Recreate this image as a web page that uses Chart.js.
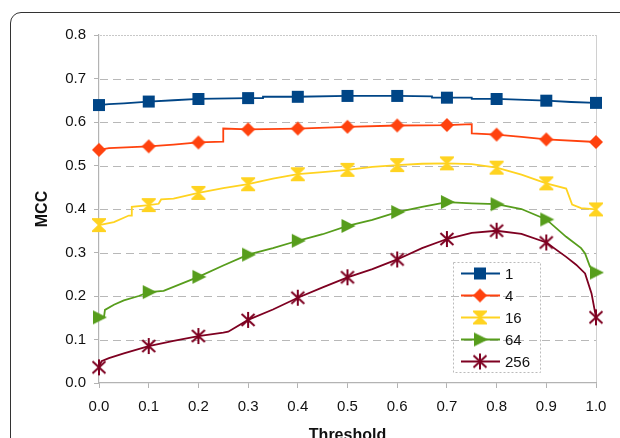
<!DOCTYPE html>
<html>
<head>
<meta charset="utf-8">
<script src="https://cdn.jsdelivr.net/npm/chart.js@4/dist/chart.umd.min.js"></script>
<style>
  html, body { margin: 0; padding: 0; background: #fff; overflow: hidden; }
  #wrap { position: relative; width: 620px; height: 438px; }
  #frame { position: absolute; left: 10px; top: 12px; width: 700px; height: 600px;
           border: 1.5px solid #333; border-radius: 11px; box-sizing: border-box; }
  canvas { position: absolute; left: 0; top: 0; }
</style>
</head>
<body>
<div id="wrap">
  <div id="frame"></div>
  <canvas id="c" width="620" height="438"></canvas>
</div>
<script>
"use strict";
// series labels / colours
var names = ["1", "4", "16", "64", "256"];
var colors = ["#004586", "#ff420e", "#ffd320", "#579d1c", "#7e0021"];

// thresholds and MCC per series (steps written as repeated x)
var x1 = [0, 0.02, 0.05, 0.1, 0.15, 0.2, 0.3, 0.33, 0.33, 0.4, 0.5, 0.6, 0.67, 0.67, 0.7, 0.75, 0.75, 0.8, 0.9, 0.95, 1.0];
var y1 = [0.639, 0.641, 0.643, 0.647, 0.650, 0.653, 0.655, 0.655, 0.658, 0.658, 0.660, 0.660, 0.659, 0.656, 0.656, 0.656, 0.653, 0.653, 0.649, 0.646, 0.644];

var x4 = [0, 0.02, 0.1, 0.15, 0.2, 0.25, 0.25, 0.3, 0.4, 0.5, 0.6, 0.7, 0.75, 0.75, 0.8, 0.85, 0.9, 1.0];
var y4 = [0.536, 0.540, 0.544, 0.548, 0.553, 0.555, 0.585, 0.583, 0.585, 0.589, 0.592, 0.593, 0.595, 0.574, 0.571, 0.566, 0.560, 0.554];

var x16 = [0, 0.03, 0.05, 0.06, 0.066, 0.066, 0.1, 0.12, 0.125, 0.15, 0.2, 0.25, 0.3, 0.35, 0.4, 0.45, 0.5, 0.55, 0.6, 0.65, 0.7, 0.75, 0.8, 0.85, 0.9, 0.94, 0.952, 0.97, 1.0];
var y16 = [0.363, 0.370, 0.380, 0.385, 0.385, 0.405, 0.409, 0.412, 0.422, 0.424, 0.437, 0.448, 0.457, 0.470, 0.480, 0.485, 0.490, 0.497, 0.501, 0.504, 0.505, 0.503, 0.495, 0.479, 0.459, 0.447, 0.410, 0.402, 0.399];

var x64 = [0, 0.01, 0.012, 0.03, 0.05, 0.08, 0.1, 0.13, 0.2, 0.25, 0.3, 0.35, 0.4, 0.45, 0.5, 0.55, 0.6, 0.65, 0.7, 0.75, 0.8, 0.85, 0.9, 0.94, 0.97, 0.978, 0.988, 1.0];
var y64 = [0.151, 0.151, 0.168, 0.180, 0.190, 0.200, 0.209, 0.212, 0.244, 0.270, 0.295, 0.310, 0.327, 0.342, 0.361, 0.375, 0.393, 0.405, 0.416, 0.413, 0.411, 0.400, 0.376, 0.336, 0.310, 0.298, 0.267, 0.254];

var x256 = [0, 0.005, 0.02, 0.05, 0.1, 0.15, 0.2, 0.25, 0.26, 0.3, 0.35, 0.4, 0.45, 0.5, 0.55, 0.6, 0.65, 0.7, 0.75, 0.8, 0.85, 0.9, 0.94, 0.96, 0.978, 0.991, 1.0];
var y256 = [0.036, 0.050, 0.057, 0.068, 0.085, 0.097, 0.108, 0.116, 0.118, 0.145, 0.169, 0.196, 0.220, 0.243, 0.262, 0.284, 0.310, 0.331, 0.345, 0.350, 0.343, 0.323, 0.290, 0.272, 0.252, 0.206, 0.151];

var xTicks = [0, 0.1, 0.2, 0.3, 0.4, 0.5, 0.6, 0.7, 0.8, 0.9, 1.0];
var yTicks = [0, 0.1, 0.2, 0.3, 0.4, 0.5, 0.6, 0.7, 0.8];

function pts(xs, ys) {
  return xs.map(function (x, i) { return {x: x, y: ys[i]}; });
}
var series = [pts(x1, y1), pts(x4, y4), pts(x16, y16), pts(x64, y64), pts(x256, y256)];

function mk(draw) {
  var c = document.createElement("canvas");
  c.width = 18; c.height = 18;
  var g = c.getContext("2d");
  g.translate(9, 9);
  draw(g);
  return c;
}
var markers = [
  mk(function (g) { g.fillStyle = colors[0]; g.fillRect(-6, -6, 12, 12); }),
  mk(function (g) {
    g.fillStyle = colors[1]; g.beginPath();
    g.moveTo(0, -7); g.lineTo(7, 0); g.lineTo(0, 7); g.lineTo(-7, 0); g.closePath(); g.fill();
  }),
  mk(function (g) {
    g.fillStyle = colors[2]; g.beginPath();
    g.moveTo(-7, -7); g.lineTo(7, -7); g.lineTo(7, -5.5); g.lineTo(1.2, 0); g.lineTo(7, 5.5); g.lineTo(7, 7);
    g.lineTo(-7, 7); g.lineTo(-7, 5.5); g.lineTo(-1.2, 0); g.lineTo(-7, -5.5); g.closePath(); g.fill();
  }),
  mk(function (g) {
    g.fillStyle = colors[3]; g.beginPath();
    g.moveTo(-6, -7); g.lineTo(8, 0); g.lineTo(-6, 7); g.closePath(); g.fill();
  }),
  mk(function (g) {
    g.strokeStyle = colors[4]; g.lineWidth = 2; g.beginPath();
    g.moveTo(0, -8); g.lineTo(0, 8);
    g.moveTo(-6.5, -6); g.lineTo(6.5, 6);
    g.moveTo(6.5, -6); g.lineTo(-6.5, 6);
    g.stroke();
  })
];

function onTick(x) { return Math.abs(x * 10 - Math.round(x * 10)) < 1e-6; }

var datasets = series.map(function (d, i) {
  return {
    label: names[i], data: d, borderColor: colors[i], backgroundColor: colors[i],
    borderWidth: 1.8, tension: 0, clip: false,
    pointStyle: function (ctx) { return ctx.raw && onTick(ctx.raw.x) ? markers[i] : "circle"; },
    pointRadius: function (ctx) { return ctx.raw && onTick(ctx.raw.x) ? 6 : 0; },
    pointHoverRadius: function (ctx) { return ctx.raw && onTick(ctx.raw.x) ? 6 : 0; }
  };
});

// dashed horizontal grid, drawn from the y scale
var dashGrid = {
  id: "dashGrid",
  beforeDatasetsDraw: function (chart) {
    var g = chart.ctx, a = chart.chartArea, ys = chart.scales.y;
    g.save();
    yTicks.forEach(function (v) {
      if (v === 0) return;
      var p = Math.round(ys.getPixelForValue(v)) + 0.5;
      if (v === 0.8) { g.strokeStyle = "#c8c8c8"; g.setLineDash([2, 1]); }
      else { g.strokeStyle = "#b8b8b8"; g.setLineDash([8, 5]); }
      g.lineWidth = 1;
      g.beginPath(); g.moveTo(a.left + 1, p); g.lineTo(a.right, p); g.stroke();
    });
    g.restore();
  }
};

var legendBox = {
  id: "legendBox",
  afterDraw: function (chart) {
    var g = chart.ctx;
    g.save();
    g.strokeStyle = "#bbb"; g.lineWidth = 1; g.setLineDash([2, 2]);
    g.strokeRect(453.5, 262.5, 87, 110);
    g.setLineDash([]);
    g.font = "15px 'Liberation Sans', Arial, sans-serif";
    g.textBaseline = "middle";
    names.forEach(function (n, i) {
      var y = 273.5 + i * 22;
      g.strokeStyle = colors[i]; g.lineWidth = 1.8;
      g.beginPath(); g.moveTo(461, y); g.lineTo(500, y); g.stroke();
      g.drawImage(markers[i], 480 - 9, y - 9);
      g.fillStyle = "#111";
      g.fillText(n, 505, y + 1);
    });
    g.restore();
  }
};

new Chart(document.getElementById("c"), {
  type: "line",
  data: {datasets: datasets},
  options: {
    responsive: false, animation: false,
    layout: {padding: {left: 0, top: 35, right: 24, bottom: 0}},
    plugins: {legend: {display: false}, tooltip: {enabled: false}},
    scales: {
      x: {
        type: "linear", min: 0, max: 1,
        afterBuildTicks: function (s) { s.ticks = xTicks.map(function (v) { return {value: v}; }); },
        afterFit: function (s) { s.height = 55; },
        ticks: {color: "#111", font: {size: 15, family: "'Liberation Sans', Arial, sans-serif"}, padding: 10,
                maxRotation: 0, callback: function (v) { return v.toFixed(1); }},
        grid: {drawOnChartArea: true, tickLength: 5, tickColor: "#b3b3b3",
               color: function (ctx) { return ctx.tick && ctx.tick.value === 1 ? "#d0d0d0" : "rgba(0,0,0,0)"; }},
        border: {color: "#b3b3b3", width: 1.2},
        title: {display: true, text: "Threshold", color: "#111", padding: {top: 8, bottom: -7},
                font: {size: 16, weight: "bold", family: "'Liberation Sans', Arial, sans-serif"}}
      },
      y: {
        min: 0, max: 0.8,
        afterBuildTicks: function (s) { s.ticks = yTicks.map(function (v) { return {value: v}; }); },
        afterFit: function (s) { s.width = 99; },
        ticks: {color: "#111", padding: 8,
                font: {size: 15, family: "'Liberation Sans', Arial, sans-serif"},
                callback: function (v) { return v.toFixed(1); }},
        grid: {drawOnChartArea: false, tickLength: 5, tickColor: "#b3b3b3", lineWidth: 1},
        border: {color: "#b3b3b3", width: 1.2},
        title: {display: true, text: "MCC", color: "#111", padding: {top: 33, bottom: 0},
                font: {size: 16, weight: "bold", family: "'Liberation Sans', Arial, sans-serif"}}
      }
    }
  },
  plugins: [dashGrid, legendBox]
});
</script>
</body>
</html>
